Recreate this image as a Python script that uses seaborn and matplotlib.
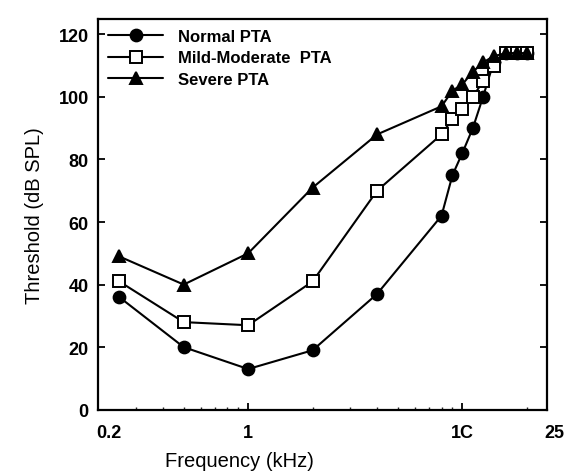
import matplotlib
matplotlib.use("Agg")
import matplotlib.pyplot as plt
import matplotlib.transforms as mtransforms
from matplotlib.ticker import FixedLocator, NullFormatter, LogLocator
import numpy as np
import pandas as pd
import seaborn as sns

# Test frequencies (kHz), conventional plus extended high-frequency range
freq_khz = [0.25, 0.5, 1, 2, 4, 8, 9, 10, 11.2, 12.5, 14, 16, 18, 20]

# Mean thresholds (dB SPL) for each pure-tone-average group
normal_pta = [36, 20, 13, 19, 37, 62, 75, 82, 90, 100, 111, 114, 114, 114]
mild_moderate_pta = [41, 28, 27, 41, 70, 88, 93, 96, 100, 105, 110, 114, 114, 114]
severe_pta = [49, 40, 50, 71, 88, 97, 102, 104, 108, 111, 113, 114, 114, 114]

group_names = ["Normal PTA", "Mild-Moderate  PTA", "Severe PTA"]
group_values = [normal_pta, mild_moderate_pta, severe_pta]

x_tick_values = [0.2, 1, 10, 25]
x_tick_labels = ["0.2", "1", "1C", "25"]
y_tick_values = [0, 20, 40, 60, 80, 100, 120]

sns.set_style("ticks")
plt.rcParams["font.family"] = ["Liberation Sans", "DejaVu Sans"]
plt.rcParams["text.color"] = "black"
plt.rcParams["axes.labelcolor"] = "black"

fig = plt.figure(figsize=(5.76, 4.77), dpi=100)
ax = fig.add_axes([0.171, 0.139, 0.7795, 0.8197])

frames = []
for name, vals in zip(group_names, group_values):
    frames.append(pd.DataFrame({"freq": freq_khz, "threshold": vals, "group": name}))
df = pd.concat(frames, ignore_index=True)

marker_styles = {
    "Normal PTA": dict(marker="o", markersize=8.5, markerfacecolor="black"),
    "Mild-Moderate  PTA": dict(marker="s", markersize=9, markerfacecolor="white"),
    "Severe PTA": dict(marker="^", markersize=9, markerfacecolor="black"),
}

for name in group_names:
    sub = df[df["group"] == name]
    sns.lineplot(
        data=sub, x="freq", y="threshold", ax=ax, color="black",
        linewidth=1.5, markeredgecolor="black", markeredgewidth=1.4,
        label=name, **marker_styles[name],
    )

ax.set_xscale("log")
ax.set_xlim(0.2, 25)
ax.set_ylim(0, 125)

ax.xaxis.set_major_locator(FixedLocator(x_tick_values))
ax.set_xticklabels(x_tick_labels)
ax.xaxis.set_minor_locator(LogLocator(base=10, subs=np.arange(2, 10) * 0.1, numticks=20))
ax.xaxis.set_minor_formatter(NullFormatter())
ax.set_yticks(y_tick_values)

for side in ["left", "right", "top", "bottom"]:
    ax.spines[side].set_visible(True)
    ax.spines[side].set_linewidth(1.6)
    ax.spines[side].set_color("black")

ax.tick_params(axis="both", which="major", direction="in", length=5, width=1.3,
               colors="black", labelsize=13)
ax.tick_params(axis="x", which="major", pad=10, top=False)
ax.tick_params(axis="y", which="major", pad=7, right=True)
ax.tick_params(axis="x", which="minor", direction="in", length=2.5, width=1.0, top=False)

for lbl in ax.get_xticklabels() + ax.get_yticklabels():
    lbl.set_fontweight("bold")

# nudge the end labels of the frequency axis
xlabels = ax.get_xticklabels()
xlabels[0].set_transform(xlabels[0].get_transform() +
                         mtransforms.ScaledTranslation(10 / 100, 0, fig.dpi_scale_trans))
xlabels[-1].set_transform(xlabels[-1].get_transform() +
                          mtransforms.ScaledTranslation(7 / 100, 0, fig.dpi_scale_trans))

ax.set_xlabel("Frequency (kHz)", fontsize=14.5, color="black")
ax.set_ylabel("Threshold (dB SPL)", fontsize=14.5, color="black")
ax.xaxis.set_label_coords(0.315, -0.105)
ax.yaxis.set_label_coords(-0.122, 0.5)

leg = ax.legend(loc="upper left", bbox_to_anchor=(0.0, 1.0), frameon=False,
                fontsize=12, handlelength=3.3, handletextpad=0.9,
                labelspacing=0.4, borderaxespad=0.2, borderpad=0.4)
for t in leg.get_texts():
    t.set_fontweight("bold")
    t.set_color("black")

fig.savefig("out.png", dpi=100, facecolor="white")
